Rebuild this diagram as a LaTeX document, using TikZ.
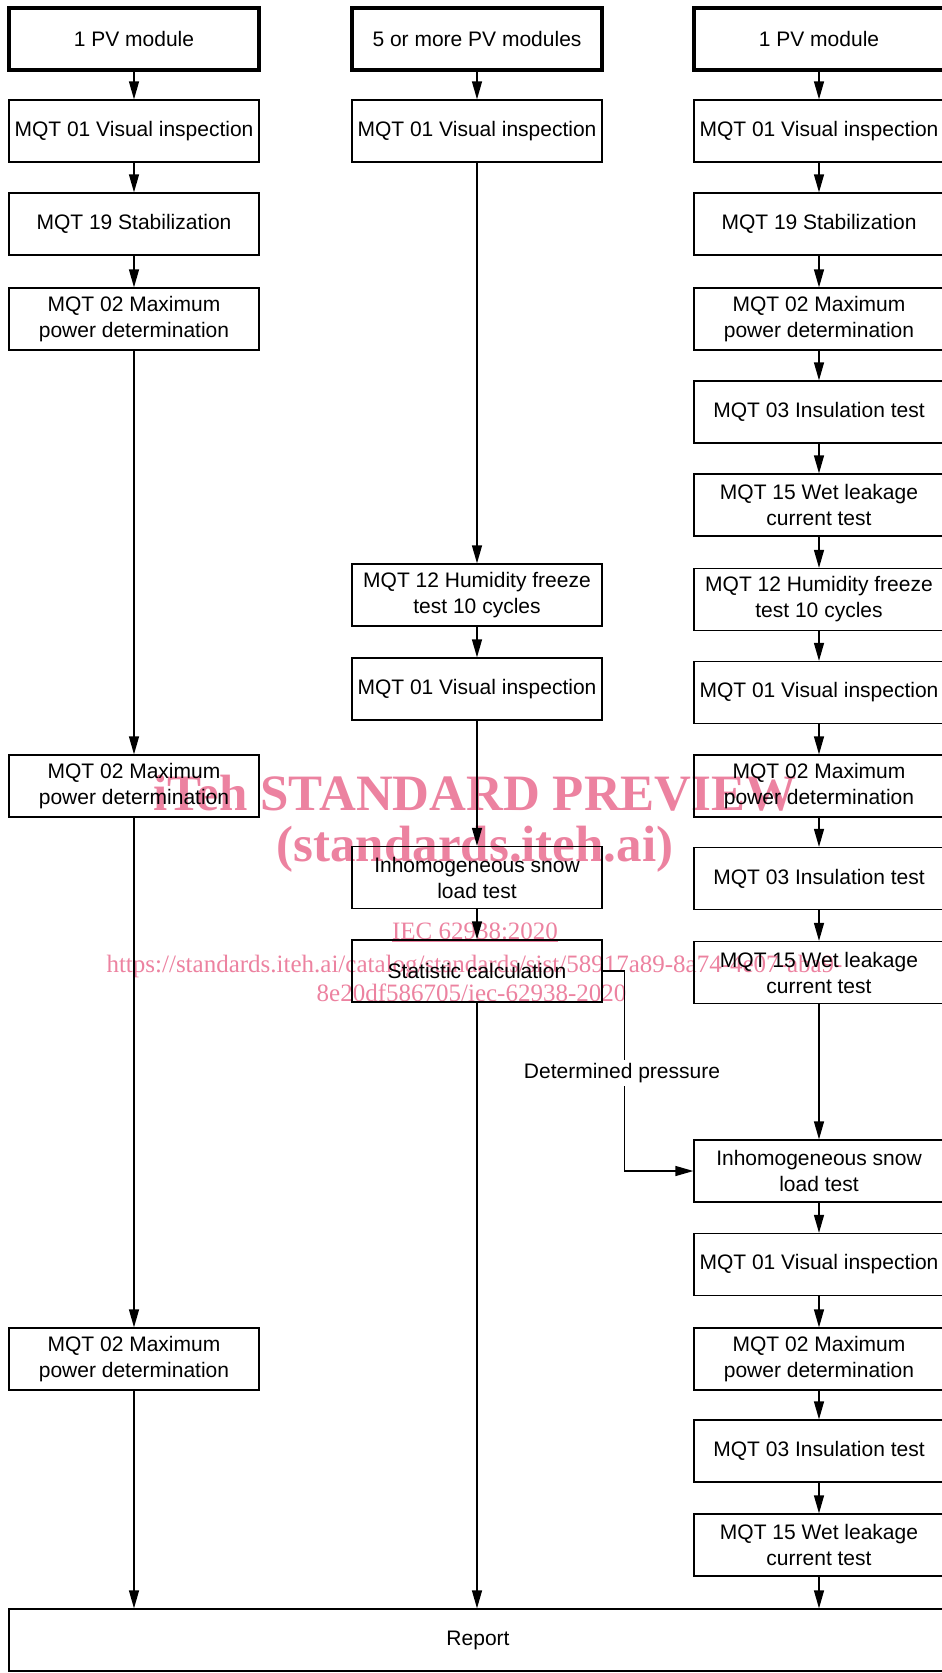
\documentclass[tikz,border=0pt]{standalone}
\usepackage{fontspec}
\setmainfont{Liberation Sans}
\newfontfamily\wmfont{Liberation Serif}
\usetikzlibrary{arrows.meta}
\definecolor{wm}{RGB}{236,130,160}
\begin{document}
\begin{tikzpicture}[x=1pt,y=-1pt,
  box/.style={draw=black, line width=1.3pt, minimum width=250pt, minimum height=62pt,
    inner sep=0pt, align=center, font=\fontsize{21}{26}\selectfont, text=black},
  topbox/.style={box, line width=4pt},
  arr/.style={line width=1.3pt, -{Triangle[length=18pt,width=10pt]}},
  wmbig/.style={text=wm, anchor=base, inner sep=0pt, font=\wmfont\bfseries\fontsize{51}{51}\selectfont},
  wmsmall/.style={text=wm, anchor=base, inner sep=0pt, font=\wmfont\fontsize{25}{25}\selectfont},
  lbl/.style={fill=white, inner sep=3pt, font=\fontsize{21}{26}\selectfont, text=black}
]
\useasboundingbox (0,0) rectangle (942,1673);
\clip (0,0) rectangle (942,1673);

% watermark
\node[wmbig] (w1) at (475,810) {iTeh STANDARD PREVIEW};
\node[wmbig] (w2) at (475,861) {(standards.iteh.ai)};
\node[wmsmall] (w3) at (475,939) {\underline{IEC 62938:2020}};
\node[wmsmall] (w4) at (474.5,972) {https://standards.iteh.ai/catalog/standards/sist/58917a89-8a74-4e07-aba9-};
\node[wmsmall] (w5) at (471.5,1001) {8e20df586705/iec-62938-2020};

% left column
\node[topbox] (L0) at (134,38.5) {1 PV module};
\node[box] (L1) at (134,131) {MQT 01 Visual inspection};
\node[box] (L2) at (134,224) {MQT 19 Stabilization};
\node[box] (L3) at (134,319) {MQT 02 Maximum\\power determination};
\node[box] (L4) at (134,786) {MQT 02 Maximum\\power determination};
\node[box] (L5) at (134,1359) {MQT 02 Maximum\\power determination};

% middle column
\node[topbox] (M0) at (477,38.5) {5 or more PV modules};
\node[box] (M1) at (477,131) {MQT 01 Visual inspection};
\node[box] (M2) at (477,595) {MQT 12 Humidity freeze\\test 10 cycles};
\node[box] (M3) at (477,689) {MQT 01 Visual inspection};
\node[box] (M4) at (477,877.5) {Inhomogeneous snow\\load test};
\node[box] (M5) at (477,971) {Statistic calculation};

% right column
\node[topbox] (R0) at (819,38.5) {1 PV module};
\node[box] (R1) at (819,131) {MQT 01 Visual inspection};
\node[box] (R2) at (819,224) {MQT 19 Stabilization};
\node[box] (R3) at (819,319) {MQT 02 Maximum\\power determination};
\node[box] (R4) at (819,412) {MQT 03 Insulation test};
\node[box] (R5) at (819,505) {MQT 15 Wet leakage\\current test};
\node[box] (R6) at (819,599.5) {MQT 12 Humidity freeze\\test 10 cycles};
\node[box] (R7) at (819,692.5) {MQT 01 Visual inspection};
\node[box] (R8) at (819,786) {MQT 02 Maximum\\power determination};
\node[box] (R9) at (819,878.5) {MQT 03 Insulation test};
\node[box] (R10) at (819,972.5) {MQT 15 Wet leakage\\current test};
\node[box] (R11) at (819,1171) {Inhomogeneous snow\\load test};
\node[box] (R12) at (819,1264.5) {MQT 01 Visual inspection};
\node[box] (R13) at (819,1359) {MQT 02 Maximum\\power determination};
\node[box] (R14) at (819,1451) {MQT 03 Insulation test};
\node[box] (R15) at (819,1545) {MQT 15 Wet leakage\\current test};

% report
\node[box, minimum width=938pt] (Rep) at (478,1640) {Report};

% connectors
\foreach \a/\b in {L0/L1,L1/L2,L2/L3,L3/L4,L4/L5,
                   M0/M1,M1/M2,M2/M3,M3/M4,M4/M5,
                   R0/R1,R1/R2,R2/R3,R3/R4,R4/R5,R5/R6,R6/R7,R7/R8,R8/R9,R9/R10,R10/R11,R11/R12,R12/R13,R13/R14,R14/R15}
  \draw[arr] (\a) -- (\b);
\draw[arr] (L5) -- (L5 |- Rep.north);
\draw[arr] (M5) -- (M5 |- Rep.north);
\draw[arr] (R15) -- (R15 |- Rep.north);

\coordinate (k1) at (624.3,971);
\draw[arr] (M5.east) -- (k1) |- (R11.west);
\node[lbl] (dp) at (622,1073) {Determined pressure};
\end{tikzpicture}
\end{document}
